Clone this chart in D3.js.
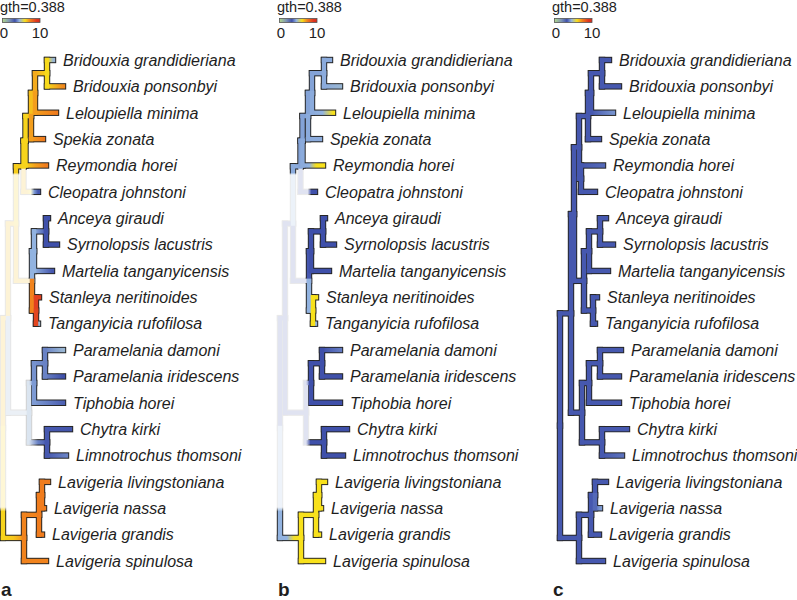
<!DOCTYPE html>
<html><head><meta charset="utf-8">
<script src="https://cdn.jsdelivr.net/npm/d3@7"></script>
<style>body{margin:0;background:#fff}svg{display:block}</style>
</head><body>
<script>
// ---------- data ----------
const species = ["Bridouxia grandidieriana","Bridouxia ponsonbyi","Leloupiella minima","Spekia zonata","Reymondia horei","Cleopatra johnstoni","Anceya giraudi","Syrnolopsis lacustris","Martelia tanganyicensis","Stanleya neritinoides","Tanganyicia rufofilosa","Paramelania damoni","Paramelania iridescens","Tiphobia horei","Chytra kirki","Limnotrochus thomsoni","Lavigeria livingstoniana","Lavigeria nassa","Lavigeria grandis","Lavigeria spinulosa"];
const panelLetters = ["a","b","c"];
const legendTitle = "gth=0.388";
const legendTicks = [0, 10];
const rateStops  = [0, 1.8, 3.3, 4.5, 6, 7.5, 9, 10];
const rateColors = ["#b1d88a","#7f96b4","#3f50aa","#92b3e0","#f8e11c","#f07c1d","#e0381f","#d62a1c"];

// tree of panels a and b : [node, parent, depth]
const treeAB = [
 ["root",null,3],["Z","root",8],["LAV","root",24],
 ["N3","Z",16],["Y","Z",29],
 ["N2","N3",23.5],["X","N3",32],
 ["N1","N2",25.5],["Cleopatra johnstoni","N2",38],
 ["BLS","N1",31],["Reymondia horei","N1",46],
 ["BL","BLS",35],["Spekia zonata","BLS",43],
 ["B","BL",47],["Leloupiella minima","BL",56],
 ["Bridouxia grandidieriana","B",53],["Bridouxia ponsonbyi","B",63],
 ["ASM","X",34],["ST","X",36],
 ["AS","ASM",46],["Martelia tanganyicensis","ASM",52],
 ["Anceya giraudi","AS",48],["Syrnolopsis lacustris","AS",57],
 ["Stanleya neritinoides","ST",39],["Tanganyicia rufofilosa","ST",38],
 ["PPT","Y",34],["CL","Y",47],
 ["PP","PPT",45],["Tiphobia horei","PPT",63],
 ["Paramelania damoni","PP",63],["Paramelania iridescens","PP",63],
 ["Chytra kirki","CL",70],["Limnotrochus thomsoni","CL",66],
 ["LNG","LAV",39],["Lavigeria spinulosa","LAV",46],
 ["LN","LNG",42],["Lavigeria grandis","LNG",42],
 ["Lavigeria livingstoniana","LN",48],["Lavigeria nassa","LN",44]
];
// tree of panel c
const treeC = [
 ["root",null,8],["V","root",19],["LAV","root",27],
 ["U","V",22],["Y","V",30],
 ["UP","U",27],["X","U",32],
 ["BLS","UP",36],["RC","UP",29],
 ["BL","BLS",39],["Spekia zonata","BLS",47],
 ["B","BL",50],["Leloupiella minima","BL",61],
 ["Bridouxia grandidieriana","B",57],["Bridouxia ponsonbyi","B",67],
 ["Reymondia horei","RC",51],["Cleopatra johnstoni","RC",43],
 ["ASM","X",37],["ST","X",41],
 ["AS","ASM",48],["Martelia tanganyicensis","ASM",56],
 ["Anceya giraudi","AS",54],["Syrnolopsis lacustris","AS",61],
 ["Stanleya neritinoides","ST",45],["Tanganyicia rufofilosa","ST",43],
 ["PPT","Y",37],["CL","Y",50],
 ["PP","PPT",48],["Tiphobia horei","PPT",67],
 ["Paramelania damoni","PP",69],["Paramelania iridescens","PP",67],
 ["Chytra kirki","CL",75],["Limnotrochus thomsoni","CL",70],
 ["LNG","LAV",39],["Lavigeria spinulosa","LAV",51],
 ["LN","LNG",43],["Lavigeria grandis","LNG",47],
 ["Lavigeria livingstoniana","LN",54],["Lavigeria nassa","LN",48]
];
// branch rates: [node, rates along branch, visibility (0..1) along branch, optional [visibility at parent end of vertical, switch fraction]]
const ratesA = [
 ["Z",[6.5],0.18],["N3",[6.5],0.18],["X",[6.5],0.18],["Y",[4.6],0.2],
 ["LAV",[6.2,6.4,7.2],1,[0.18,0.72]],
 ["N2",[6.3],1,[0.18,0.85]],["N1",[6.2],1],
 ["Cleopatra johnstoni",[6.5,6.5,6,4.2,3.4],[0.18,0.18,0.18,1,1]],
 ["BLS",[6.2,6.5],1],["Reymondia horei",[6.2,7,7.5],1],["BL",[6.5,6.9],1],["Spekia zonata",[7,7.5],1],
 ["B",[6.8,6.2],1],["Leloupiella minima",[7,7.5],1],["Bridouxia grandidieriana",[6.1,4.6],1],["Bridouxia ponsonbyi",[6.1,7.3],1],
 ["ASM",[4.5,4.4],1],["ST",[7.4,8.2],1],["AS",[4.5,3.4],1],["Martelia tanganyicensis",[4.5,3.4],1],
 ["Anceya giraudi",[3.3],1],["Syrnolopsis lacustris",[3.3],1],["Stanleya neritinoides",[8.8],1],["Tanganyicia rufofilosa",[8.7,8.7,4.6],1],
 ["PPT",[4.6,4.2],[0.35,1]],["CL",[4.6,3.9,3.4],[0.35,1,1]],["PP",[4.1,3.9],1],["Tiphobia horei",[4.2,3.5],1],
 ["Paramelania damoni",[3.9,4.6],1],["Paramelania iridescens",[3.9,3.3],1],["Chytra kirki",[3.4,3.2],1],["Limnotrochus thomsoni",[3.4,3.9],1],
 ["LNG",[7.4],1],["Lavigeria spinulosa",[7.4],1],["LN",[7.5],1],["Lavigeria grandis",[7.5],1],["Lavigeria livingstoniana",[7.5],1],["Lavigeria nassa",[7.5],1]
];
const ratesB = [
 ["Z",[3.3],0.16],["N3",[3.3],0.16],["X",[3.3],0.16],["Y",[3.3],0.16],
 ["LAV",[4.5,4.5,5.9,6],1,[0.16,0.72]],
 ["N2",[4.4],1,[0.16,0.85]],["N1",[4.3],1],
 ["Cleopatra johnstoni",[3.3],[0.16,0.16,0.16,1,1]],
 ["BLS",[4.3],1],["Reymondia horei",[4.4,4.5,6,6],1],["BL",[4.3],1],["Spekia zonata",[4.4],1],
 ["B",[4.3],1],["Leloupiella minima",[4.4,4.5,6],1],["Bridouxia grandidieriana",[4.4],1],["Bridouxia ponsonbyi",[4.4,4.6],1],
 ["ASM",[3.4],1],["ST",[4.5,6],1],["AS",[3.3],1],["Martelia tanganyicensis",[3.3],1],
 ["Anceya giraudi",[3.3],1],["Syrnolopsis lacustris",[3.3],1],["Stanleya neritinoides",[6],1],["Tanganyicia rufofilosa",[6,6,4.5],1],
 ["PPT",[3.3],[0.16,1]],["CL",[3.3],[0.16,1,1,1,1]],["PP",[3.3],1],["Tiphobia horei",[3.3],1],
 ["Paramelania damoni",[3.3,3.8],1],["Paramelania iridescens",[3.3],1],["Chytra kirki",[3.3],1],["Limnotrochus thomsoni",[3.3],1],
 ["LNG",[6],1],["Lavigeria spinulosa",[6],1],["LN",[6],1],["Lavigeria grandis",[6],1],["Lavigeria livingstoniana",[6],1],["Lavigeria nassa",[6],1]
];
const ratesC = [
 ["Leloupiella minima",[3.4,4.1],1],["Reymondia horei",[3.4,3.6],1],["Lavigeria nassa",[3.6,4.2],1],["Limnotrochus thomsoni",[3.4,3.7],1]
];
const defaultRateC = 3.4;

// ---------- drawing ----------
const W = 797, H = 600;
const svg = d3.select("body").append("svg").attr("width", W).attr("height", H);
const defs = svg.append("defs");
const color = d3.scaleLinear().domain(rateStops).range(rateColors).interpolate(d3.interpolateRgb).clamp(true);
const y = d3.scalePoint().domain(species).range([60, 561]);
const OUT = "#262626";
const fade = (c, w) => d3.interpolateRgb("#ffffff", c)(w);
const fadeOut = w => d3.interpolateRgb("#ffffff", OUT)(w < 0.5 ? w * 0.6 : w);
const FONT = "'Liberation Sans', Arial, sans-serif";
let gid = 0;

function paint(x1, y1, x2, y2, stops) {
  if (stops.every(s => s[1] === stops[0][1])) return stops[0][1];
  const id = "g" + (gid++);
  const lg = defs.append("linearGradient").attr("id", id).attr("gradientUnits", "userSpaceOnUse")
    .attr("x1", x1).attr("y1", y1).attr("x2", x2).attr("y2", y2);
  stops.forEach(s => lg.append("stop").attr("offset", s[0]).attr("stop-color", s[1]));
  return `url(#${id})`;
}
const samp = (arr, t) => arr.length === 1 ? arr[0] : d3.piecewise(d3.interpolateNumber, arr)(t);

function drawPanel(off, nodes, rateRows, defaultRate, letter) {
  const x = d3.scaleLinear().domain([0, 100]).range([off, off + 100]);
  const rmap = new Map(rateRows.map(r => [r[0], r]));
  const root = d3.stratify().id(d => d[0]).parentId(d => d[1])(nodes);
  root.eachAfter(n => {
    n.px = x(n.data[2]);
    if (!n.children) n.py = y(n.id);
    else { const e = d3.extent(n.children, c => c.py); n.py = (e[0] + e[1]) / 2; }
  });
  const segs = [];
  root.descendants().forEach(n => {
    if (!n.parent) return;
    const p = n.parent;
    const r = rmap.get(n.id) || [n.id, [defaultRate], 1];
    const rs = r[1], ws = Array.isArray(r[2]) ? r[2] : [r[2]];
    const k = Math.max(rs.length, ws.length, 2);
    const hs = d3.range(k).map(i => { const t = i / (k - 1); return [t, samp(rs, t), samp(ws, t)]; });
    segs.push({x1: p.px, y1: n.py, x2: n.px, y2: n.py,
      f: paint(p.px, n.py, n.px, n.py, hs.map(s => [s[0], fade(color(s[1]), s[2])])),
      o: paint(p.px, n.py, n.px, n.py, hs.map(s => [s[0], fadeOut(s[2])])),
      w: d3.mean(hs, s => s[2])});
    const w0 = ws[0], c0 = color(rs[0]);
    let vs = [[0, w0], [1, w0]];
    if (r[3]) { const [wp, fr] = r[3]; vs = [[0, wp], [fr, wp], [Math.min(1, fr + 0.04), w0], [1, w0]]; }
    segs.push({x1: p.px, y1: p.py, x2: p.px, y2: n.py,
      f: paint(p.px, p.py, p.px, n.py, vs.map(s => [s[0], fade(c0, s[1])])),
      o: paint(p.px, p.py, p.px, n.py, vs.map(s => [s[0], fadeOut(s[1])])),
      w: d3.mean(vs, s => s[1])});
  });
  segs.sort((a, b) => a.w - b.w);
  const g = svg.append("g");
  g.append("g").selectAll("line").data(segs).join("line")
    .attr("x1", d => d.x1).attr("y1", d => d.y1).attr("x2", d => d.x2).attr("y2", d => d.y2)
    .attr("stroke", d => d.o).attr("stroke-width", 6.4).attr("stroke-linecap", "square");
  g.append("g").selectAll("line").data(segs).join("line")
    .attr("x1", d => d.x1).attr("y1", d => d.y1).attr("x2", d => d.x2).attr("y2", d => d.y2)
    .attr("stroke", d => d.f).attr("stroke-width", 4.4).attr("stroke-linecap", "square");
  g.append("g").selectAll("text").data(root.leaves()).join("text")
    .attr("x", d => d.px + 10).attr("y", d => d.py + 5.8)
    .attr("font-family", FONT).attr("font-style", "italic").attr("font-size", 16).attr("fill", "#1e1e1e")
    .text(d => d.id);

  // legend
  const lx = d3.scaleLinear().domain([legendTicks[0], legendTicks[1]]).range([off + 4, off + 40]);
  const lg = svg.append("g");
  lg.append("text").attr("x", off).attr("y", 12).attr("font-family", FONT).attr("font-size", 14.5).attr("fill", "#1e1e1e").text(legendTitle);
  const id = "leg" + letter;
  const gr = defs.append("linearGradient").attr("id", id).attr("x1", 0).attr("x2", 1).attr("y1", 0).attr("y2", 0);
  rateStops.forEach((s, i) => gr.append("stop").attr("offset", s / 10).attr("stop-color", rateColors[i]));
  lg.append("rect").attr("x", off + 2.5).attr("y", 18.5).attr("width", lx(10) - off - 2.5).attr("height", 4)
    .attr("fill", `url(#${id})`).attr("stroke", "#555").attr("stroke-width", 0.8);
  lg.selectAll("text.t").data(legendTicks).join("text").attr("class", "t")
    .attr("x", d => lx(d)).attr("y", 38).attr("text-anchor", "middle")
    .attr("font-family", FONT).attr("font-size", 15).attr("fill", "#1e1e1e").text(d => d);
  svg.append("text").attr("x", off + 1).attr("y", 596).attr("font-family", FONT).attr("font-weight", "bold")
    .attr("font-size", 19).attr("fill", "#1e1e1e").text(letter);
}

drawPanel(0, treeAB, ratesA, 3.3, panelLetters[0]);
drawPanel(277, treeAB, ratesB, 3.3, panelLetters[1]);
drawPanel(552, treeC, ratesC, defaultRateC, panelLetters[2]);
</script>
</body></html>
